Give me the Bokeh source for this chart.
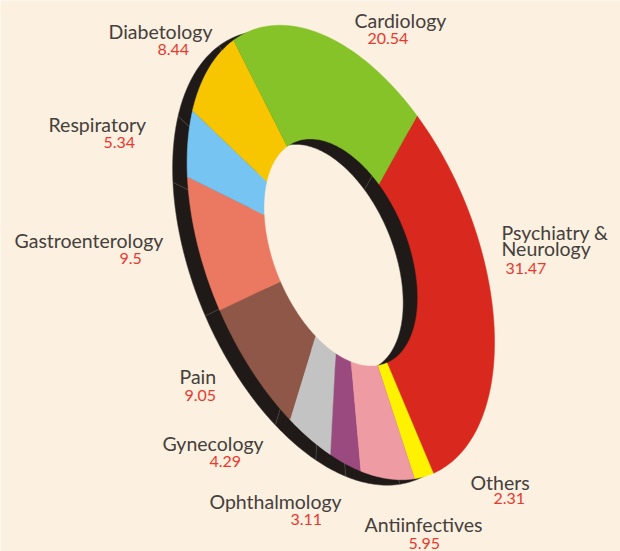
import numpy as np
from bokeh.plotting import figure
from bokeh.embed import file_html
from bokeh.resources import INLINE
from bokeh.core.properties import value
from bokeh.models import Range1d

categories = ["Psychiatry & Neurology", "Others", "Antiinfectives", "Ophthalmology", "Gynecology",
              "Pain", "Gastroenterology", "Respiratory", "Diabetology", "Cardiology"]
shares = [31.47, 2.31, 5.95, 3.11, 4.29, 9.05, 9.5, 5.34, 8.44, 20.54]
value_labels = ["31.47", "2.31", "5.95", "3.11", "4.29", "9.05", "9.5", "5.34", "8.44", "20.54"]
colors = ["#d9281e", "#fff200", "#ee9ba3", "#9a4a7e", "#c3c3c3",
          "#8f5747", "#eb7962", "#75c4f1", "#f7c600", "#86c328"]

BG, DARK = "#fcf0e0", "#1f1a17"
W, H = 620, 551
CX, CY = 340.3, 252
AX, BX = (76.2, -136.7), (133.5, 181.5)
HOLE = 0.5
SHADOW = (-14.5, 5.5)

# label layout: name lines (x, baseline), value (x, baseline)
name_pos = [(501, 240), (470, 490), (364, 532), (209, 509), (162, 451),
            (179, 384), (14, 248), (48, 132), (108, 39), (354, 28)]
value_pos = [(505, 275), (493, 505), (408, 550), (290, 526), (209, 468),
             (184, 402), (119, 265), (103, 149), (157, 56), (367, 45)]


def wedge(c0, c1, dx=0.0, dy=0.0):
    t = np.linspace(c0, c1, max(int((c1 - c0) * 4), 6)) * 2 * np.pi / 100
    ox = CX + AX[0] * np.cos(t) + BX[0] * np.sin(t)
    oy = CY + AX[1] * np.cos(t) + BX[1] * np.sin(t)
    ix = CX + HOLE * (ox - CX)
    iy = CY + HOLE * (oy - CY)
    return list(np.r_[ox, ix[::-1]] + dx), list(np.r_[oy, iy[::-1]] + dy)


cum = np.r_[0, np.cumsum(shares)]
front = [wedge(cum[i], cum[i + 1]) for i in range(len(shares))]
back = [wedge(cum[i], cum[i + 1], *SHADOW) for i in range(len(shares))]

p = figure(width=W, height=H, output_backend="svg", toolbar_location=None,
           x_range=Range1d(0, W), y_range=Range1d(H, 0),
           min_border=0, outline_line_color=None, background_fill_color=BG,
           border_fill_color=BG, margin=0)
p.axis.visible = False
p.grid.visible = False

p.patches([b[0] for b in back], [b[1] for b in back], fill_color=DARK,
          line_color="#4a4642", line_width=0.5)
p.patches([f[0] for f in front], [f[1] for f in front], fill_color=colors,
          line_color=colors, line_width=0.5)

names_x, names_y, names_t = [], [], []
for name, (x, y) in zip(categories, name_pos):
    if name.startswith("Psychiatry"):
        names_x += [x, x]
        names_y += [y, y + 16]
        names_t += ["Psychiatry &", "Neurology"]
    else:
        names_x.append(x)
        names_y.append(y)
        names_t.append(name)

p.text(names_x, names_y, text=names_t, text_font=value("Lato"), text_font_size="19.5px",
       text_color="#45403c", text_baseline="alphabetic", text_align="left", y_offset=-8)
p.text([v[0] for v in value_pos], [v[1] for v in value_pos], text=value_labels,
       text_font=value("Lato"), text_font_size="16px", text_color="#e8392f",
       text_baseline="alphabetic", text_align="left", y_offset=-7)

open("out.html", "w").write(file_html(p, INLINE))
